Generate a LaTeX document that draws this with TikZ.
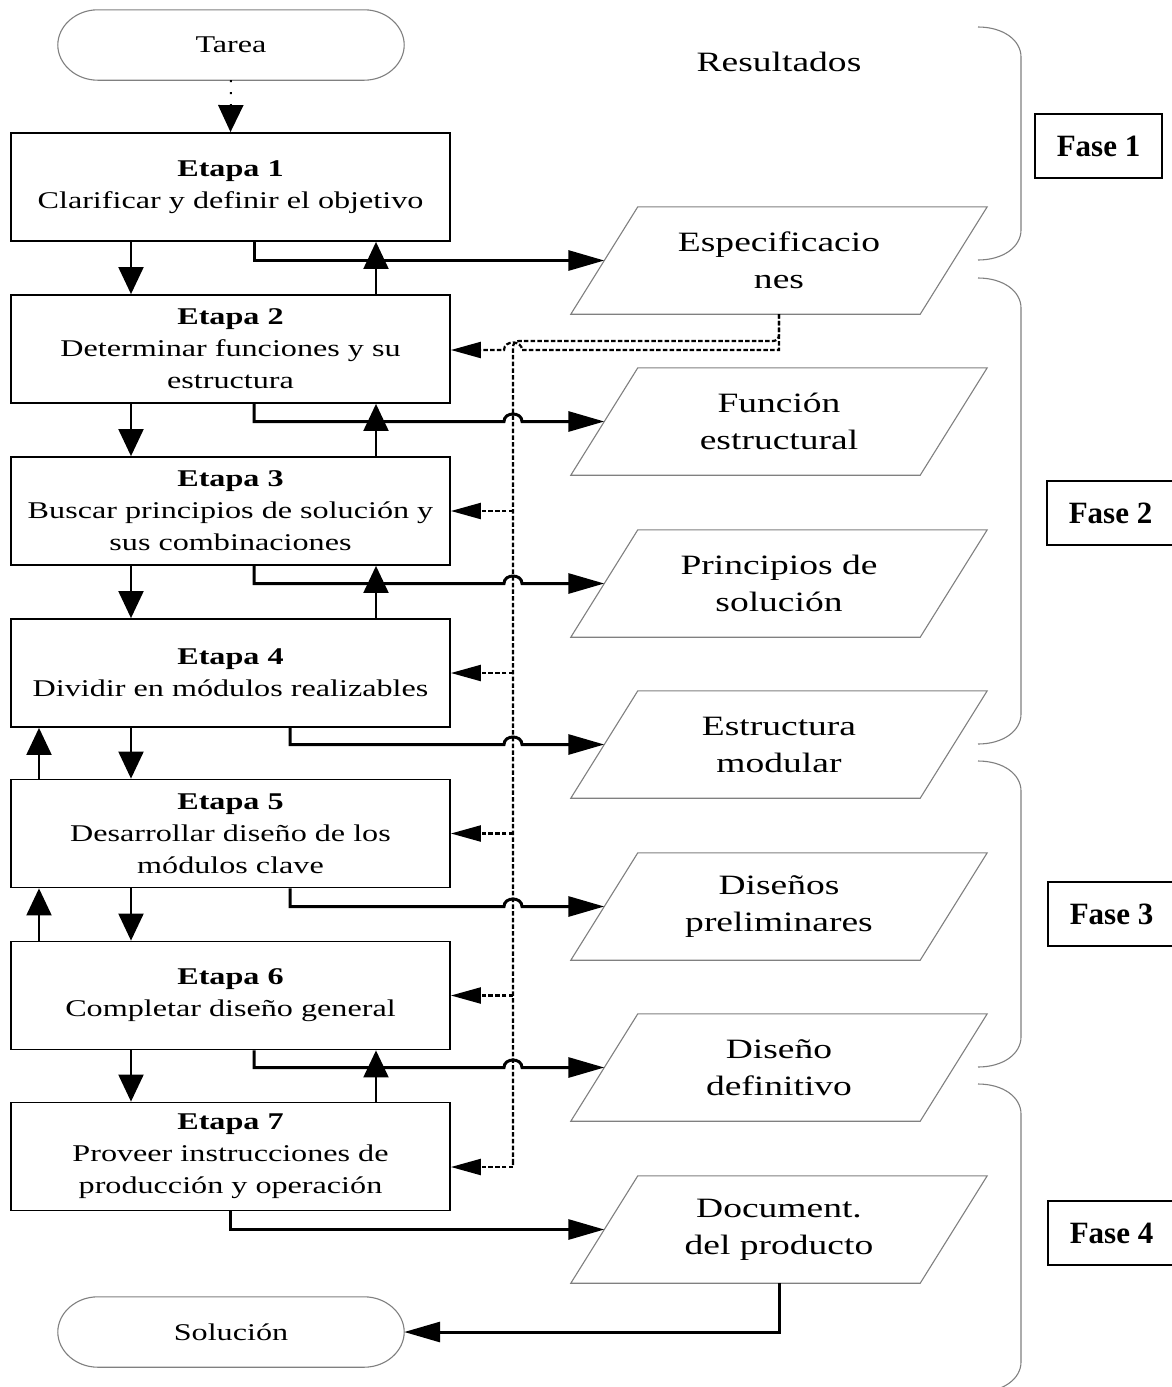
\documentclass[tikz,border=0pt]{standalone}
\usepackage{fontspec}
\setmainfont{Liberation Serif}
\newfontfamily\dgfont[FakeStretch=1.34]{Liberation Serif}
\usetikzlibrary{arrows.meta,calc}

\begin{document}
\begin{tikzpicture}[x=1pt,y=-1pt,
  stage/.style={draw, line width=1.8pt, minimum width=439pt, minimum height=108pt,
    inner sep=0pt, align=center, font=\dgfont\fontsize{24}{32}\selectfont},
  result/.style={minimum width=349pt, minimum height=107pt, inner sep=0pt,
    align=center, font=\dgfont\fontsize{28}{37}\selectfont},
  terminal/.style={minimum width=346pt, minimum height=70pt, inner sep=0pt,
    font=\dgfont\fontsize{24}{30}\selectfont},
  phase/.style={draw, line width=1.4pt, minimum width=127pt, minimum height=64pt,
    inner sep=0pt, font=\bfseries\fontsize{31}{36}\selectfont},
  outline/.style={draw=black!50, line width=1.1pt},
  vtip/.style={-{Triangle[length=27pt,width=25pt]}},
  htip/.style={-{Triangle[length=36pt,width=20pt]}},
  dtip/.style={-{Triangle[length=30pt,width=16pt]}},
  fline/.style={line width=2pt, vtip},
  oline/.style={line width=3pt, htip},
  dline/.style={line width=2.2pt, black, dash pattern=on 4.5pt off 2.2pt},
]
\useasboundingbox (0,0) rectangle (1172,1387);
\clip (0,0) rectangle (1172,1387);
\fill[white] (0,0) rectangle (1172,1387);

% terminals
\node[terminal] (tarea) at (231,45) {Tarea};
\node[terminal] (sol) at (231,1332) {Solución};
\foreach \n in {tarea,sol}
  \draw[outline]
    ($(\n.north west)+(40,0)$) -- ($(\n.north east)+(-40,0)$)
    .. controls +(22,0) and +(0,-19) .. (\n.east)
    .. controls +(0,19) and +(22,0) .. ($(\n.south east)+(-40,0)$)
    -- ($(\n.south west)+(40,0)$)
    .. controls +(-22,0) and +(0,19) .. (\n.west)
    .. controls +(0,-19) and +(-22,0) .. ($(\n.north west)+(40,0)$) -- cycle;

% stages
\node[stage] (e1) at (230.5,187)    {\textbf{Etapa 1}\\Clarificar y definir el objetivo};
\node[stage] (e2) at (230.5,349)    {\textbf{Etapa 2}\\Determinar funciones y su\\estructura};
\node[stage] (e3) at (230.5,511)    {\textbf{Etapa 3}\\Buscar principios de solución y\\sus combinaciones};
\node[stage] (e4) at (230.5,673)    {\textbf{Etapa 4}\\Dividir en módulos realizables};
\node[stage] (e5) at (230.5,833.5)  {\textbf{Etapa 5}\\Desarrollar diseño de los\\módulos clave};
\node[stage] (e6) at (230.5,995.5)  {\textbf{Etapa 6}\\Completar diseño general};
\node[stage] (e7) at (230.5,1156.5) {\textbf{Etapa 7}\\Proveer instrucciones de\\producción y operación};

% results
\node[result, font=\dgfont\fontsize{28}{34}\selectfont] (res) at (779,62) {Resultados};
\node[result] (p1) at (779,260.5)  {Especificacio\\nes};
\node[result] (p2) at (779,421.5)  {Función\\estructural};
\node[result] (p3) at (779,583.5)  {Principios de\\solución};
\node[result] (p4) at (779,744.5)  {Estructura\\modular};
\node[result] (p5) at (779,906.5)  {Diseños\\preliminares};
\node[result] (p6) at (779,1067.5) {Diseño\\definitivo};
\node[result] (p7) at (779,1229.5) {Document.\\del producto};
\foreach \n in {p1,p2,p3,p4,p5,p6,p7}
  \draw[outline]
    ($(\n.north west)+(33.5,0)$) -- ($(\n.north east)+(33.5,0)$)
    -- ($(\n.south east)+(-33.5,0)$) -- ($(\n.south west)+(-33.5,0)$) -- cycle;

% phases
\node[phase] (f1) at (1098.5,146) {Fase 1};
\node[phase] (f2) at (1110.5,513) {Fase 2};
\node[phase] (f3) at (1111.5,914) {Fase 3};
\node[phase] (f4) at (1111.5,1233) {Fase 4};

% brackets grouping the results into phases
\foreach \t/\b in {27/260, 278/744, 761/1067, 1084/1392}
  \draw[outline] (978,\t) .. controls (1003,\t) and (1021,\t+13) .. (1021,\t+30)
    -- (1021,\b-30) .. controls (1021,\b-13) and (1003,\b) .. (978,\b);

% reference columns
\coordinate (xL) at (131,0);
\coordinate (xR) at (376,0);
\coordinate (xE) at (39,0);
\coordinate (xO) at (254,0);
\coordinate (xM) at (290,0);
\coordinate (xJ) at (513,0);
\coordinate (dtop) at (513,341);
\coordinate (dsplit) at (513,350);
\coordinate (d7) at (513,1167);

% start
\draw[line width=2pt, dash pattern=on 2pt off 10pt, vtip] (tarea.south) -- (e1.north);

% forward flow
\foreach \a/\b in {e1/e2,e2/e3,e3/e4,e4/e5,e5/e6,e6/e7}
  \draw[fline] (\a.south -| xL) -- (\b.north -| xL);

% iteration back to the previous stage
\foreach \a/\b/\x in {e2/e1/xR,e3/e2/xR,e4/e3/xR,e5/e4/xE,e6/e5/xE,e7/e6/xR}
  \draw[fline] (\a.north -| \x) -- (\b.south -| \x);

% feedback from the specification
\draw[dline, rounded corners=6pt] (p1.south) -- (p1.south |- dtop) -- (dtop) -- (d7)
  [sharp corners] -- (d7);
\draw[dline, dtip] (d7) -- (d7 -| e7.east);
\draw[dline, dtip] (p1.south) -- (p1.south |- dsplit) -- ($(dsplit)+(9,0)$)
  .. controls +(0,-10) and +(0,-10) .. ($(dsplit)+(-9,0)$) -- (dsplit -| e2.east);
\foreach \e in {e3,e4,e5,e6}
  \draw[dline, dtip] (xJ |- \e.east) -- (\e.east);

% outputs of each stage
\draw[oline] (e1.south -| xO) -- (xO |- p1.west) -- (p1.west);
\foreach \e/\p/\x in {e2/p2/xO,e3/p3/xO,e4/p4/xM,e5/p5/xM,e6/p6/xO}
  \draw[oline] (\e.south -| \x) -- (\x |- \p.west) -- ($(xJ |- \p.west)+(-9,0)$)
    .. controls +(0,-10) and +(0,-10) .. ($(xJ |- \p.west)+(9,0)$) -- (\p.west);
\draw[oline] (e7.south) -- (e7.south |- p7.west) -- (p7.west);
\draw[oline] (p7.south) -- (p7.south |- sol.east) -- (sol.east);
\end{tikzpicture}
\end{document}
